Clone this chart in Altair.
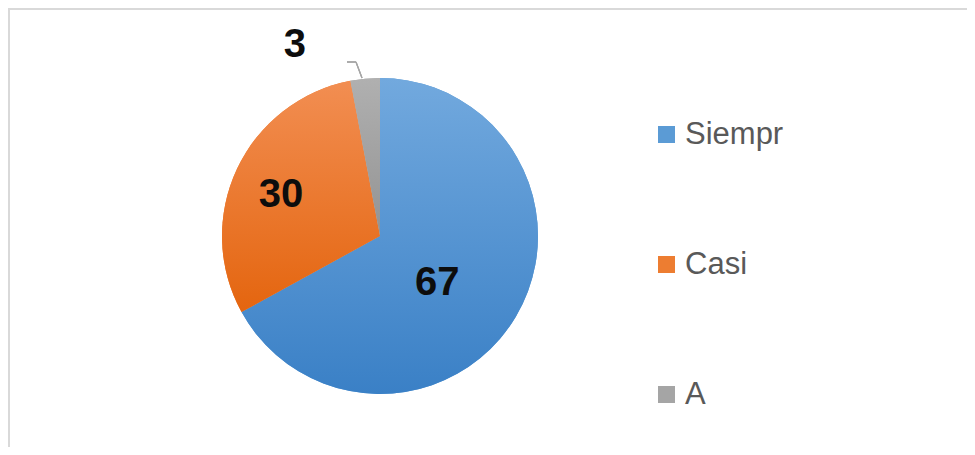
import altair as alt
import pandas as pd
import math

categories = ["Siempr", "Casi", "A"]
values = [67, 30, 3]
solid_colors = ["#5b9bd5", "#ed7d31", "#a5a5a5"]
grad_top = ["#72a9de", "#f28e52", "#b0b0b0"]
grad_bottom = ["#3a80c6", "#e4650f", "#939393"]

df = pd.DataFrame({"category": categories, "value": values, "order": list(range(len(categories)))})

CX, CY, R = 372, 228, 158
theta_scale = alt.Scale(domain=[0, 100], range=[0, 2 * math.pi])

base = (
    alt.Chart(df)
    .transform_window(end="sum(value)", sort=[alt.SortField("order")], frame=[None, 0])
    .transform_calculate(start="datum.end - datum.value", mid="datum.end - datum.value / 2")
)

legend_layer = base.mark_arc(radius=R, stroke=None).encode(
    x=alt.value(CX), y=alt.value(CY),
    theta=alt.Theta("start:Q", scale=theta_scale),
    theta2="end:Q",
    color=alt.Color(
        "category:N",
        scale=alt.Scale(domain=categories, range=solid_colors),
        sort=categories,
        legend=alt.Legend(
            title=None, orient="none", legendX=643, legendY=111,
            symbolType="square", symbolSize=290, symbolStrokeWidth=0,
            labelFontSize=31, labelFont="Liberation Sans", labelColor="#595959",
            labelOffset=3, rowPadding=98,
        ),
    ),
)

layers = [legend_layer]
for cat, top, bot in zip(categories, grad_top, grad_bottom):
    layers.append(
        base.transform_filter(alt.datum.category == cat).mark_arc(
            radius=R,
            color=alt.Gradient(
                gradient="linear",
                stops=[alt.GradientStop(color=top, offset=0), alt.GradientStop(color=bot, offset=1)],
                x1=0, y1=0, x2=0, y2=1,
            ),
        ).encode(
            x=alt.value(CX), y=alt.value(CY),
            theta=alt.Theta("start:Q", scale=theta_scale),
            theta2="end:Q",
        )
    )

label_pos = {"Siempr": (70, -3, 11), "Casi": (105, -4, 4), "A": (192, -67, 0)}
for cat, (r, dx, dy) in label_pos.items():
    layers.append(
        base.transform_filter(alt.datum.category == cat).mark_text(
            radius=r, dx=dx, dy=dy, font="Liberation Sans", fontSize=40,
            fontWeight="bold", color="#0d0d0d", align="center", baseline="middle",
        ).encode(
            x=alt.value(CX), y=alt.value(CY),
            theta=alt.Theta("mid:Q", scale=theta_scale),
            text=alt.Text("value:Q"),
        )
    )

# leader line for small slice
leader1 = alt.Chart(df).mark_rule(color="#a6a6a6", strokeWidth=1.2).encode(
    x=alt.value(339), x2=alt.value(348), y=alt.value(54), y2=alt.value(54))
leader2 = alt.Chart(df).mark_rule(color="#a6a6a6", strokeWidth=1.2).encode(
    x=alt.value(348), x2=alt.value(354), y=alt.value(54), y2=alt.value(70))

# chart border (top and left edges)
border_top = alt.Chart(df).mark_rule(color="#d9d9d9", strokeWidth=2).encode(
    x=alt.value(0), x2=alt.value(959), y=alt.value(1), y2=alt.value(1))
border_left = alt.Chart(df).mark_rule(color="#d9d9d9", strokeWidth=2).encode(
    x=alt.value(1), x2=alt.value(1), y=alt.value(0), y2=alt.value(439))

chart = alt.layer(*layers, leader1, leader2, border_top, border_left).properties(
    width=959, height=439, padding=0,
    autosize=alt.AutoSizeParams(type="none"),
).configure_view(stroke=None)

chart.save("out.html", embed_options={"renderer": "svg", "actions": False})
